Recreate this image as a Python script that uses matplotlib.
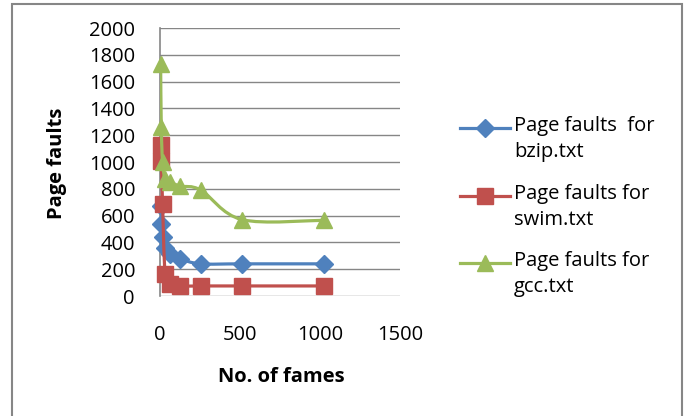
import matplotlib
matplotlib.use('Agg')
import matplotlib.pyplot as plt
from matplotlib.path import Path
from matplotlib.patches import PathPatch, Rectangle
from matplotlib.lines import Line2D

# page faults vs number of frames
frames = [4, 8, 16, 32, 64, 128, 256, 512, 1024]
bzip = [670, 540, 440, 357, 310, 275, 240, 240, 240]
swim = [1130, 1010, 690, 165, 90, 75, 75, 75, 75]
gcc = [1730, 1260, 1000, 870, 850, 820, 790, 570, 565]

series = [bzip, swim, gcc]
labels = ['Page faults  for\nbzip.txt', 'Page faults for\nswim.txt', 'Page faults for\ngcc.txt']
colors = ['#4F81BD', '#C0504D', '#9BBB59']
markers = ['D', 's', '^']
msizes = [9.5, 11.5, 12]

yticks = list(range(0, 2001, 200))
xticks = [0, 500, 1000, 1500]

plt.rcParams['font.family'] = ['Open Sans', 'DejaVu Sans']
FS = 14.5


def smooth_path(xs, ys):
    # excel style smoothed line (catmull-rom as bezier)
    pts = list(zip(xs, ys))
    n = len(pts)
    verts = [pts[0]]
    codes = [Path.MOVETO]
    for i in range(n - 1):
        p0 = pts[max(i - 1, 0)]
        p1 = pts[i]
        p2 = pts[i + 1]
        p3 = pts[min(i + 2, n - 1)]
        c1 = (p1[0] + (p2[0] - p0[0]) / 6, p1[1] + (p2[1] - p0[1]) / 6)
        c2 = (p2[0] - (p3[0] - p1[0]) / 6, p2[1] - (p3[1] - p1[1]) / 6)
        verts += [c1, c2, p2]
        codes += [Path.CURVE4] * 3
    return Path(verts, codes)


W, H = 685, 416
fig = plt.figure(figsize=(W / 100, H / 100), dpi=100)
ax = fig.add_axes([160 / W, 1 - 296 / H, 240 / W, 268 / H])

for k, vals in enumerate(series):
    ax.add_patch(PathPatch(smooth_path(frames, vals), fill=False,
                           edgecolor=colors[k], lw=2.3, zorder=3 + k))
    ax.plot(frames, vals, linestyle='none', marker=markers[k], ms=msizes[k],
            color=colors[k], mec=colors[k], zorder=3 + k, clip_on=False)

ax.set_xlim(0, 1500)
ax.set_ylim(0, 2000)
ax.set_xticks(xticks)
ax.set_yticks(yticks)
ax.tick_params(axis='y', length=0, pad=18, labelsize=FS)
ax.tick_params(axis='x', length=0, pad=21, labelsize=FS)
ax.yaxis.grid(True, color='#868686', lw=1)
ax.set_axisbelow(True)
for s in ['top', 'right', 'bottom']:
    ax.spines[s].set_visible(False)
ax.spines['left'].set_color('#868686')
ax.spines['left'].set_linewidth(1.2)

fig.text(57 / W, 1 - 163 / H, 'Page faults', rotation=90, fontsize=FS,
         fontweight='bold', ha='center', va='center')
fig.text(281 / W, 1 - 377 / H, 'No. of fames', fontsize=FS,
         fontweight='bold', ha='center', va='center')

# legend drawn by hand so the key sits on the first text line
leg_y = [128, 196, 263]
for k in range(3):
    fy = 1 - leg_y[k] / H
    fig.add_artist(Line2D([460 / W, 510 / W], [fy, fy], transform=fig.transFigure,
                          color=colors[k], lw=2.3))
    fig.add_artist(Line2D([485 / W], [fy], transform=fig.transFigure,
                          marker=markers[k], ms=msizes[k], color=colors[k], lw=0))
    # va top, nudged up so the first line centre lines up with the key
    fig.text(514 / W, fy + 12 / H, labels[k], fontsize=FS, ha='left', va='top',
             linespacing=1.38, transform=fig.transFigure)

fig.add_artist(Rectangle((12 / W, -0.05), 670 / W, 1.05 - 4 / H,
                         transform=fig.transFigure, fill=False,
                         edgecolor='#868686', lw=1.5))

fig.savefig('out.png', dpi=100)
